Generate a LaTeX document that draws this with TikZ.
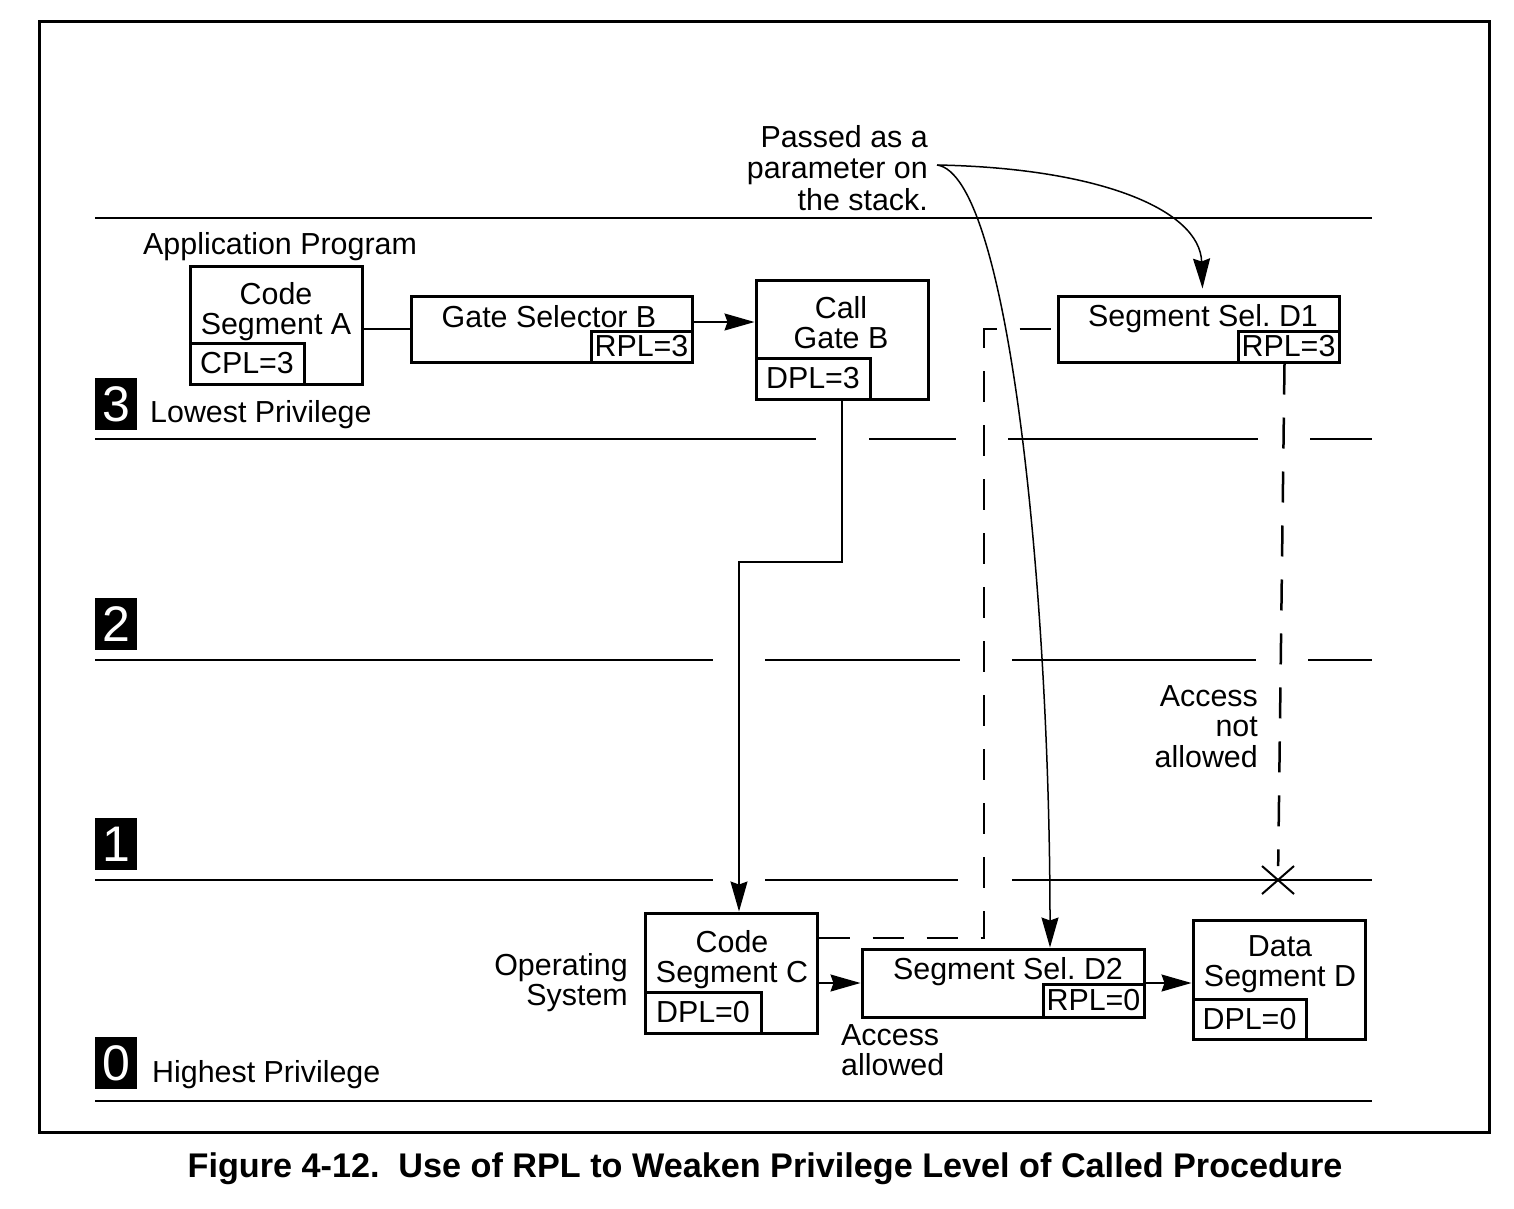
\documentclass[tikz,border=0pt]{standalone}
\usepackage{fontspec}
\setmainfont{Liberation Sans}
\usetikzlibrary{arrows.meta,shapes.misc}
\frenchspacing

\begin{document}
\begin{tikzpicture}[x=1pt,y=-1pt,
	font=\fontsize{30.4}{30.5}\selectfont,
	box/.style={draw=black,line width=3pt,inner sep=0pt},
	field/.style={draw=black,line width=3pt,inner sep=0pt},
	txt/.style={inner sep=0pt,align=center},
	level/.style={line width=1.5pt},
	conn/.style={line width=1.5pt,-{Stealth[length=30pt,width=17pt,inset=3pt]}},
	dashline/.style={line width=2.5pt,dash pattern=on 31pt off 23pt},
	levtag/.style={fill=black,text=white,minimum width=42pt,minimum height=52pt,inner sep=0pt,font=\fontsize{50}{50}\selectfont}]

	\useasboundingbox (0,0) rectangle (1514,1208);
	\draw[line width=3pt] (39,21) rectangle (1489,1132);

	\draw[level] (95,218) -- (1372,218);
	\draw[level] (95,439) -- (816,439) (869,439) -- (956,439) (1008,439) -- (1258,439) (1310,439) -- (1372,439);
	\draw[level] (95,660) -- (713,660) (765,660) -- (960,660) (1012,660) -- (1256,660) (1308,660) -- (1372,660);
	\draw[level] (95,880) -- (713,880) (765,880) -- (958,880) (1012,880) -- (1372,880);
	\draw[level] (95,1101) -- (1372,1101);

	\node[levtag] (lv3) at (116,404) {3};
	\node[levtag] (lv2) at (116,624) {2};
	\node[levtag] (lv1) at (116,844) {1};
	\node[levtag] (lv0) at (116,1063) {0};

	\node[txt,anchor=base west] (lowest) at (150,422) {Lowest Privilege};
	\node[txt,anchor=base west] (highest) at (152,1082) {Highest Privilege};
	\node[txt,anchor=base west] (app) at (143,254) {Application Program};
	\node[txt,anchor=north east,align=right,font=\fontsize{30.4}{31.5}\selectfont] (passed) at (928,125) {Passed as a\\parameter on\\the stack.};
	\node[txt,anchor=north east,align=right] (os) at (628,953) {Operating\\System};
	\node[txt,anchor=north east,align=right] (denied) at (1258,685) {Access\\not\\allowed};
	\node[txt,anchor=north west,align=left] (granted) at (841,1024) {Access\\allowed};

	\node[box,minimum width=172pt,minimum height=118pt] (sega) at (276,325) {};
	\node[field,anchor=south west,minimum width=114pt,minimum height=41pt] (sega-cpl) at (sega.south west) {CPL=3};
	\node[txt,anchor=north] (sega-t) at (276,282) {Code\\Segment A};

	\node[box,minimum width=281pt,minimum height=66pt] (gsb) at (551.5,329) {};
	\node[field,anchor=south east,minimum width=101pt,minimum height=31pt] (gsb-rpl) at (gsb.south east) {RPL=3};
	\node[txt,anchor=base] (gsb-t) at (549,327) {Gate Selector B};

	\node[box,minimum width=172pt,minimum height=119pt] (cgb) at (842,339.5) {};
	\node[field,anchor=south west,minimum width=114pt,minimum height=41pt] (cgb-dpl) at (cgb.south west) {DPL=3};
	\node[txt,anchor=north] (cgb-t) at (841,296) {Call\\Gate B};

	\node[box,minimum width=281pt,minimum height=66pt] (segd1) at (1198.5,329) {};
	\node[field,anchor=south east,minimum width=101pt,minimum height=31pt] (segd1-rpl) at (segd1.south east) {RPL=3};
	\node[txt,anchor=base] (segd1-t) at (1203,326) {Segment Sel. D1};

	\node[box,minimum width=172pt,minimum height=120pt] (segc) at (731,973) {};
	\node[field,anchor=south west,minimum width=116pt,minimum height=41pt] (segc-dpl) at (segc.south west) {DPL=0};
	\node[txt,anchor=north] (segc-t) at (732,930) {Code\\Segment C};

	\node[box,minimum width=282pt,minimum height=68pt] (segd2) at (1003,983) {};
	\node[field,anchor=south east,minimum width=101pt,minimum height=33pt] (segd2-rpl) at (segd2.south east) {RPL=0};
	\node[txt,anchor=base] (segd2-t) at (1008,979) {Segment Sel. D2};

	\node[box,minimum width=172pt,minimum height=119pt] (segd) at (1279,979.5) {};
	\node[field,anchor=south west,minimum width=113pt,minimum height=40pt] (segd-dpl) at (segd.south west) {DPL=0};
	\node[txt,anchor=north] (segd-t) at (1280,935) {Data\\Segment D};

	\node[draw=black,cross out,line width=2pt,minimum width=30pt,minimum height=26pt,inner sep=0pt] (deny) at (1278,880) {};

	\coordinate (fork) at (937,165);
	\coordinate (drop) at (739,562);
	\coordinate (upturn) at (984,938);
	\coordinate (topturn) at (984,329);

	\path[level] (sega.east |- gsb.west) edge (gsb.west);
	\path[conn] ([yshift=7pt]gsb.east) edge ([yshift=7pt]gsb.east -| cgb.west);
	\draw[conn] (cgb.south) |- (drop) -- (segc.north -| drop);
	\path[conn] (segc.east |- segd2.west) edge (segd2.west);
	\path[conn] (segd2.east) edge (segd2.east -| segd.west);

	\draw[conn] (fork) .. controls (1100,168) and (1200,210) .. ([xshift=4pt,yshift=6pt]segd1.north);
	\draw[conn] (fork) .. controls (1010,175) and (1050,600) .. ([xshift=47pt]segd2.north);

	\draw[dashline] (segc.east |- upturn) -- (upturn) -- (topturn) -- (segd1.west |- topturn);
	\draw[dashline] ([xshift=-4pt]segd1-rpl.south) -- (deny);

	\node[txt,anchor=base,font=\fontsize{34.2}{36}\selectfont\bfseries] (caption) at (765,1177) {Figure 4-12.\hspace{0.55em}Use of RPL to Weaken Privilege Level of Called Procedure};

\end{tikzpicture}
\end{document}
